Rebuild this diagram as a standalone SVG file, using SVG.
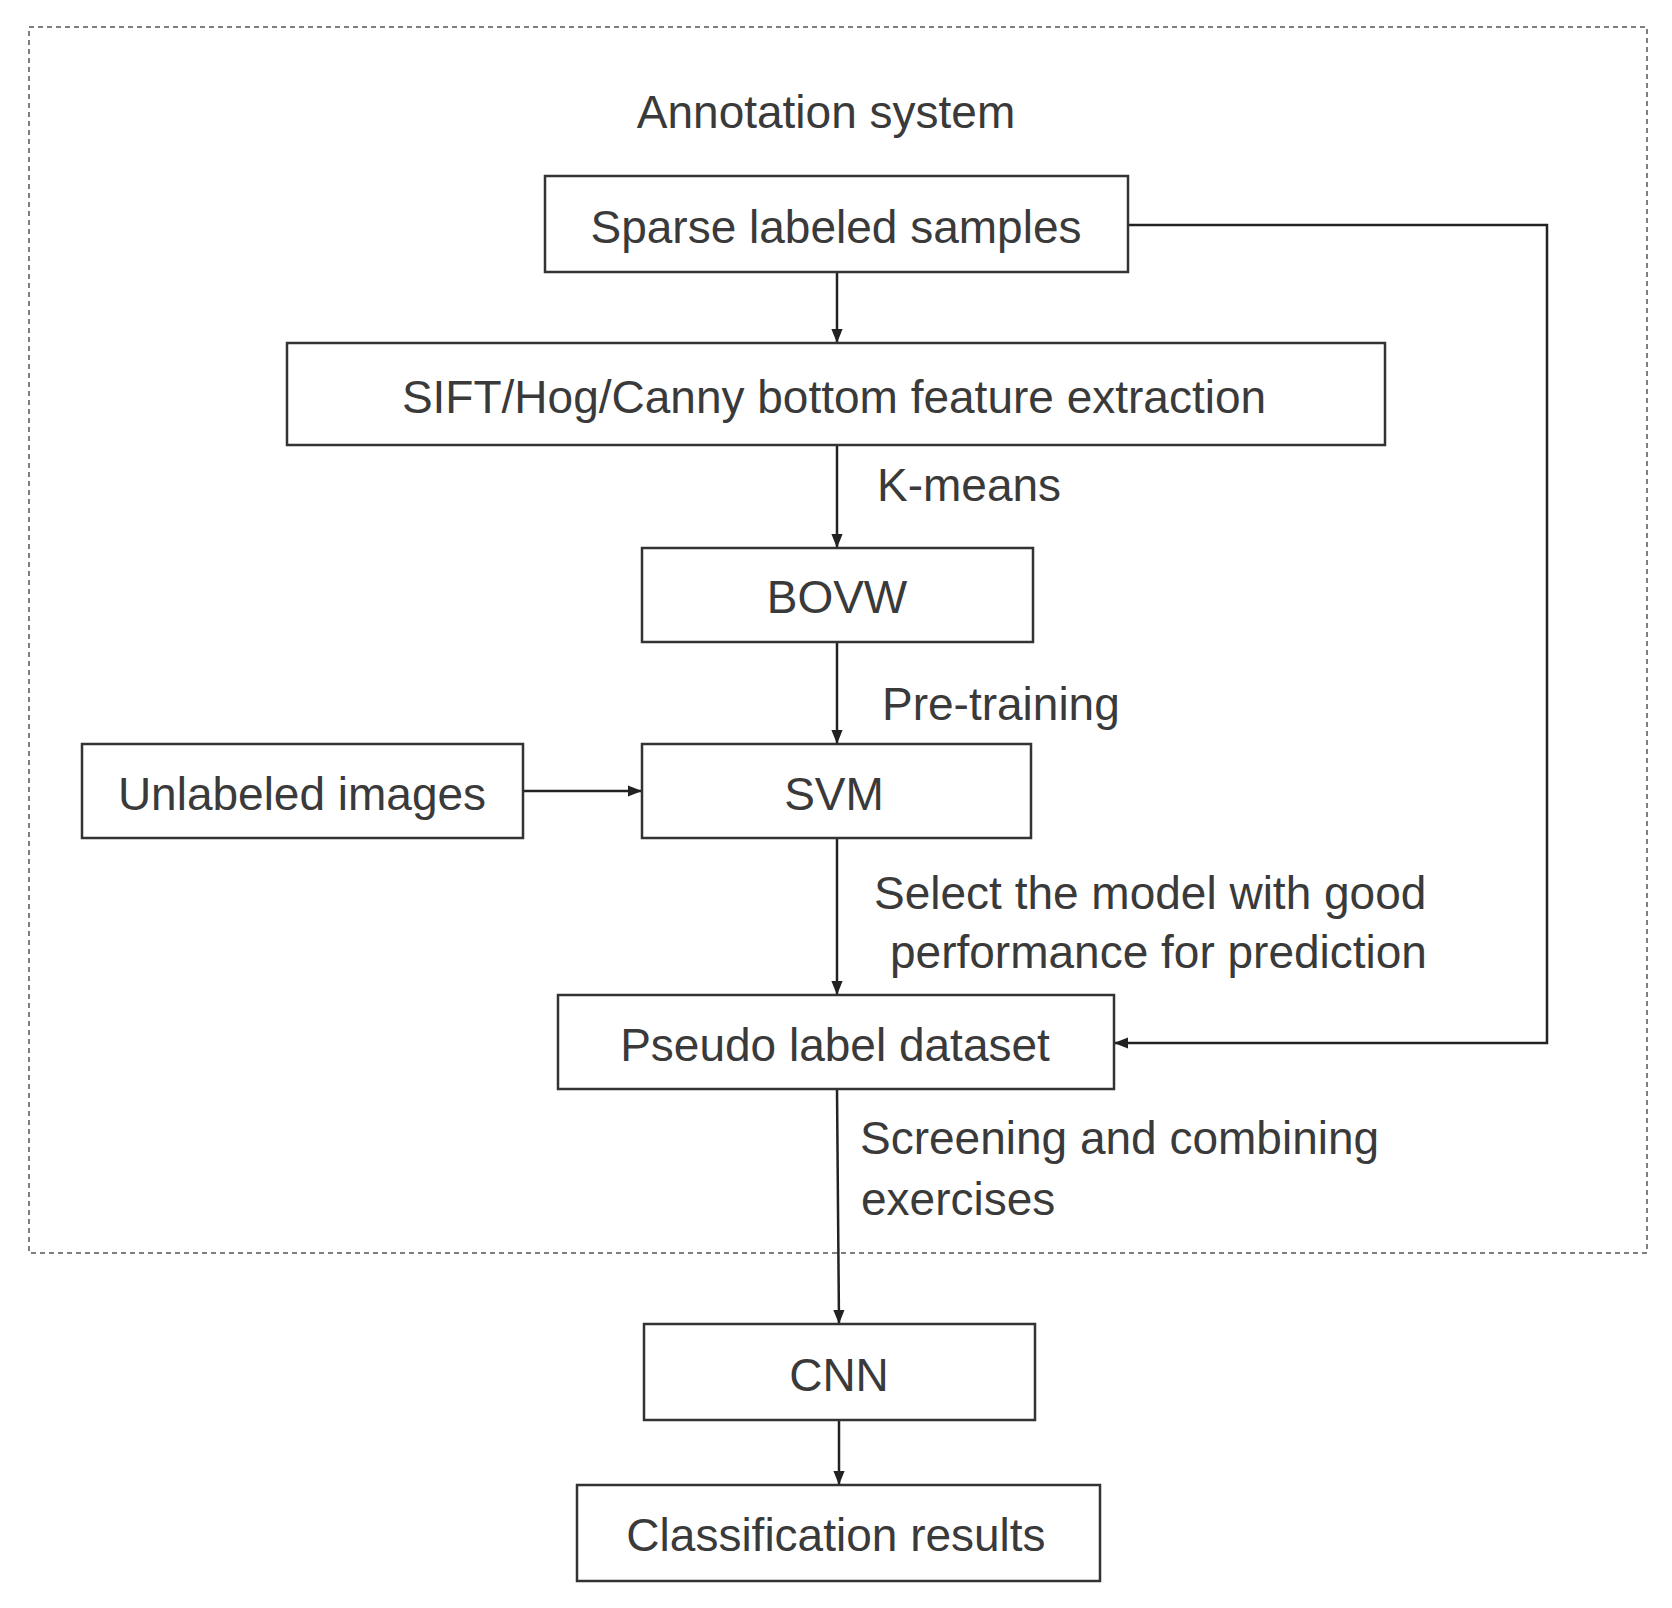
<svg xmlns="http://www.w3.org/2000/svg" width="1672" height="1608" viewBox="0 0 1672 1608">
<style>
.b{fill:#fff;stroke:#333;stroke-width:2.5}
.t{font-family:"Liberation Sans",Arial,sans-serif;font-size:46px;fill:#3a3a3a}
.m{text-anchor:middle}
.c{fill:none;stroke:#222;stroke-width:2.5}
</style>
<defs>
<marker id="h" viewBox="0 0 10 10" refX="10" refY="5" markerWidth="14" markerHeight="14" orient="auto" markerUnits="userSpaceOnUse"><path d="M0,1L10,5L0,9z" fill="#222"/></marker></defs>
<rect x="29" y="27" width="1618" height="1226" fill="none" stroke="#555" stroke-width="1.5" stroke-dasharray="5,4"/>
<text class="t m" x="826" y="128">Annotation system</text>
<g id="connectors">
<line class="c" x1="837" y1="272" x2="837" y2="343" marker-end="url(#h)"/>
<line class="c" x1="837" y1="445" x2="837" y2="548" marker-end="url(#h)"/>
<line class="c" x1="837" y1="642" x2="837" y2="744" marker-end="url(#h)"/>
<line class="c" x1="523" y1="791" x2="642" y2="791" marker-end="url(#h)"/>
<line class="c" x1="837" y1="838" x2="837" y2="995" marker-end="url(#h)"/>
<polyline class="c" points="1128,225 1547,225 1547,1043 1114,1043" marker-end="url(#h)"/>
<line class="c" x1="837" y1="1089" x2="839" y2="1324" marker-end="url(#h)"/>
<line class="c" x1="839" y1="1420" x2="839" y2="1485" marker-end="url(#h)"/>
<text class="t" x="877" y="501">K-means</text>
<text class="t" x="882" y="720">Pre-training</text>
<text class="t" x="874" y="909">Select the model with good</text>
<text class="t" x="890" y="968">performance for prediction</text>
<text class="t" x="860" y="1154">Screening and combining</text>
<text class="t" x="861" y="1215">exercises</text>
</g>
<g id="sparse"><rect class="b" x="545" y="176" width="583" height="96"/><text class="t m" x="836" y="243">Sparse labeled samples</text></g>
<g id="sift"><rect class="b" x="287" y="343" width="1098" height="102"/><text class="t m" x="834" y="413">SIFT/Hog/Canny bottom feature extraction</text></g>
<g id="bovw"><rect class="b" x="642" y="548" width="391" height="94"/><text class="t m" x="837" y="613">BOVW</text></g>
<g id="svm"><rect class="b" x="642" y="744" width="389" height="94"/><text class="t m" x="834" y="810">SVM</text></g>
<g id="unlabeled"><rect class="b" x="82" y="744" width="441" height="94"/><text class="t m" x="302" y="810">Unlabeled images</text></g>
<g id="pseudo"><rect class="b" x="558" y="995" width="556" height="94"/><text class="t m" x="835" y="1061">Pseudo label dataset</text></g>
<g id="cnn"><rect class="b" x="644" y="1324" width="391" height="96"/><text class="t m" x="839" y="1391">CNN</text></g>
<g id="classification"><rect class="b" x="577" y="1485" width="523" height="96"/><text class="t m" x="836" y="1551">Classification results</text></g>
</svg>
